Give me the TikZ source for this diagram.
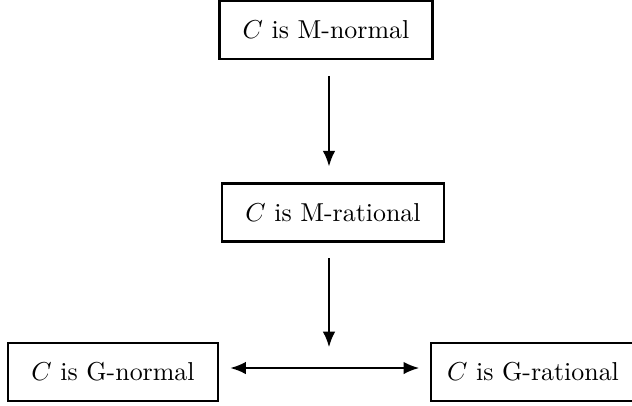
\documentclass[tikz,border=0pt]{standalone}
\usetikzlibrary{arrows.meta}
\tikzset{
  prop/.style={draw, line width=1.1pt, inner xsep=9pt, minimum height=22.4pt},
  tip/.tip={Latex[length=6pt,width=4.8pt]},
  imp/.style={-tip, thick}
}
\begin{document}
\begin{tikzpicture}[x=0.386pt, y=-0.386pt]
	\useasboundingbox (0,0) rectangle (632,405);
	\node[prop] (mn) at (326,30) {$C$ is M-normal};
	\node[prop] (mr) at (333,212.5) {$C$ is M-rational};
	
	\node[prop] (gn) at (113,372) {$C$ is G-normal};
	\node[prop, inner xsep=6.2pt] (gr) at (533,372) {$C$ is G-rational};
	\coordinate (mid) at (329,368);
	
	\draw[imp, shorten <=6pt, shorten >=6pt] (mn.south -| mid) -- (mr.north -| mid);
	\draw[imp, shorten <=6pt, shorten >=8pt] (mr.south -| mid) -- (mid);
	\draw[thick, tip-tip, shorten <=4.2pt, shorten >=4pt] (gn.east |- mid) -- (gr.west |- mid);
\end{tikzpicture}
\end{document}
